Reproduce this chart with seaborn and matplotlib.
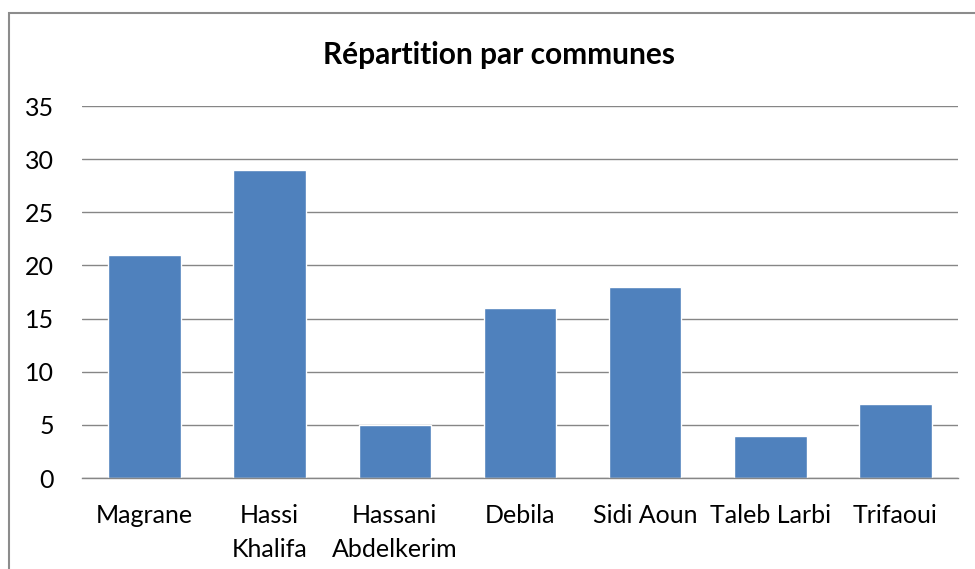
import matplotlib
matplotlib.use("Agg")
import matplotlib.pyplot as plt
import matplotlib.patches as mpatches
import seaborn as sns
import pandas as pd

communes = ["Magrane", "Hassi\nKhalifa", "Hassani\nAbdelkerim", "Debila",
            "Sidi Aoun", "Taleb Larbi", "Trifaoui"]
valeurs = [21, 29, 5, 16, 18, 4, 7]

df = pd.DataFrame({"commune": communes, "n": valeurs})

sns.set_style("white")
plt.rcParams["font.family"] = ["Lato", "DejaVu Sans"]

fig = plt.figure(figsize=(9.75, 5.69), dpi=100)
ax = fig.add_axes([0.0841, 0.1599, 0.8985, 0.6538])

sns.barplot(data=df, x="commune", y="n", color="#4F81BD", saturation=1,
            width=0.58, ax=ax)

ax.set_ylim(0, 35)
ax.set_yticks(range(0, 36, 5))
ax.set_xlim(-0.5, 6.5)
ax.yaxis.grid(True, color="#868686", linewidth=1)
ax.set_axisbelow(True)
for s in ["top", "right", "left"]:
    ax.spines[s].set_visible(False)
ax.spines["bottom"].set_color("#868686")
ax.spines["bottom"].set_linewidth(1)
ax.tick_params(axis="both", length=0, labelsize=18, colors="black")
ax.tick_params(axis="y", pad=20)
ax.tick_params(axis="x", pad=19)
for t in ax.get_xticklabels():
    t.set_linespacing(1.55)
ax.set_xlabel("")
ax.set_ylabel("")

fig.text(0.512, 0.903, "Répartition par communes", ha="center", va="center",
         fontsize=21.5, fontweight="bold", color="black")

# chart frame (only left/top edges visible in the crop)
fig.patches.append(mpatches.Rectangle((9 / 975, -0.1), 1.2, 0.977 + 0.1,
                                      transform=fig.transFigure, fill=False,
                                      edgecolor="#8c8c8c", linewidth=1.5))

fig.savefig("out.png", dpi=100)
